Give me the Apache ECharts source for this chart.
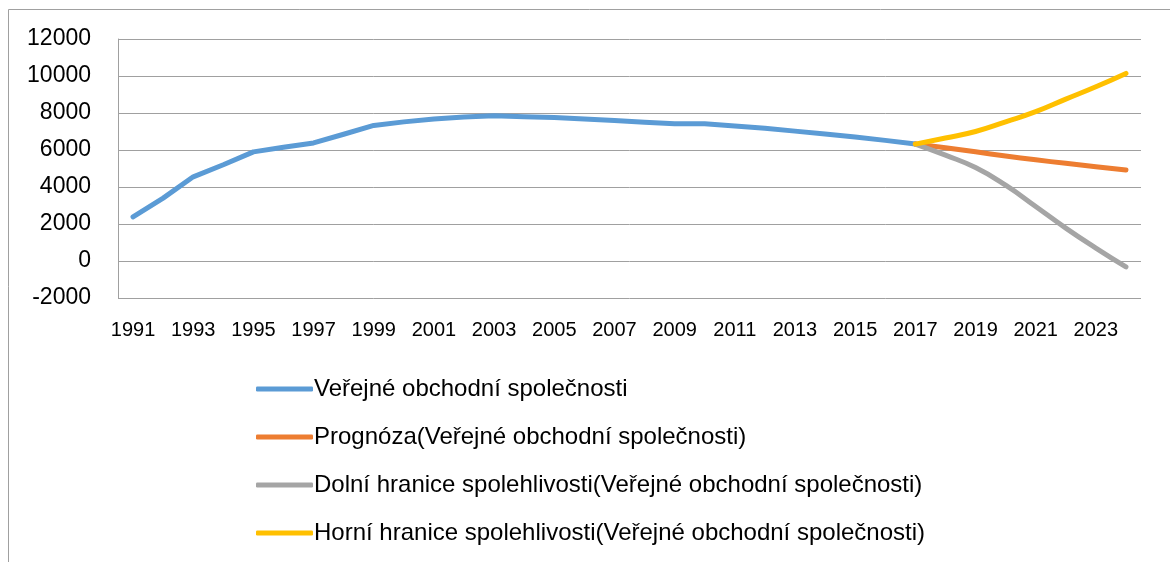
<!DOCTYPE html>
<html>
<head>
<meta charset="utf-8">
<script src="https://cdn.jsdelivr.net/npm/echarts@6/dist/echarts.min.js"></script>
<style>
  html, body { margin: 0; padding: 0; background: #fff; }
  #chart { width: 1170px; height: 562px; }
</style>
</head>
<body>
<div id="chart"></div>
<script>
const years = Array.from({ length: 34 }, (_, i) => String(1991 + i));

// actual values 1991-2017
const actual = [
  2380, 3400, 4550, 5200, 5900, 6150, 6380, 6850, 7330, 7520,
  7680, 7790, 7850, 7800, 7760, 7680, 7600, 7500, 7420, 7420,
  7300, 7180, 7020, 6870, 6700, 6520, 6320
];

// forecast 2017-2024
const forecast = [6320, 6120, 5900, 5680, 5470, 5280, 5100, 4920];
const lowerBound = [6320, 5720, 5050, 4100, 2950, 1780, 700, -320];
const upperBound = [6320, 6650, 7000, 7520, 8070, 8750, 9420, 10140];

const seriesNames = [
  "Veřejné obchodní společnosti",
  "Prognóza(Veřejné obchodní společnosti)",
  "Dolní hranice spolehlivosti(Veřejné obchodní společnosti)",
  "Horní hranice spolehlivosti(Veřejné obchodní společnosti)"
];
const colors = ["#5b9bd5", "#ed7d31", "#a5a5a5", "#ffc000"];

const pad = (arr, start) => years.map((_, i) => (i >= start && i - start < arr.length ? arr[i - start] : null));
const fcStart = years.indexOf("2017");

const chart = echarts.init(document.getElementById("chart"));

const lineSeries = (name, data, color, smooth) => ({
  name,
  type: "line",
  data,
  smooth,
  showSymbol: false,
  symbol: "none",
  connectNulls: false,
  lineStyle: { color, width: 5, cap: "round", join: "round" },
  itemStyle: { color },
  animation: false
});

chart.setOption({
  backgroundColor: "#fff",
  textStyle: { fontFamily: "Liberation Sans", color: "#000" },
  graphic: [{
    type: "rect",
    shape: { x: 8.5, y: 9.5, width: 1300, height: 700 },
    style: { fill: "none", stroke: "#a0a0a0", lineWidth: 1 },
    silent: true
  }],
  grid: { left: 118, right: 29, top: 39, bottom: 264 },
  xAxis: {
    type: "category",
    data: years,
    boundaryGap: true,
    axisLine: { show: false, onZero: false },
    axisTick: { show: false },
    axisLabel: { interval: 1, fontSize: 20, margin: 22, color: "#000" },
    splitLine: { show: false }
  },
  yAxis: {
    type: "value",
    min: -2000,
    max: 12000,
    interval: 2000,
    axisLine: { show: true, lineStyle: { color: "#a0a0a0" } },
    axisTick: { show: false },
    axisLabel: { fontSize: 23, margin: 27, color: "#000", formatter: (v) => String(v) },
    splitLine: { lineStyle: { color: "#a0a0a0", width: 1 } }
  },
  legend: {
    orient: "vertical",
    left: 251,
    top: 371,
    itemWidth: 57,
    itemHeight: 5,
    itemGap: 22,
    icon: "roundRect",
    data: seriesNames,
    textStyle: { fontSize: 24, lineHeight: 26, color: "#000", padding: [0, 0, 0, -4] }
  },
  series: [
    lineSeries(seriesNames[0], pad(actual, 0), colors[0], false),
    lineSeries(seriesNames[1], pad(forecast, fcStart), colors[1], true),
    lineSeries(seriesNames[2], pad(lowerBound, fcStart), colors[2], true),
    lineSeries(seriesNames[3], pad(upperBound, fcStart), colors[3], true)
  ]
});
</script>
</body>
</html>
